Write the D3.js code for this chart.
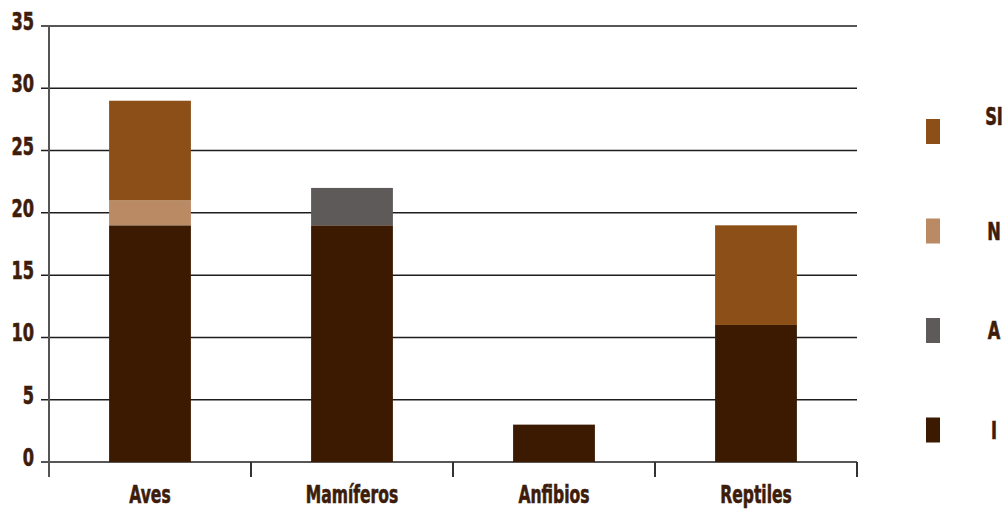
<!DOCTYPE html>
<html>
<head>
<meta charset="utf-8">
<title>Especies por grupo</title>
<script src="https://cdn.jsdelivr.net/npm/d3@7"></script>
<style>
  body { margin: 0; background: #fff; }
  text { font-family: "DejaVu Sans Condensed", "DejaVu Sans", sans-serif; font-weight: bold; fill: #3d1c0a; stroke: #3d1c0a; stroke-width: 0.6px; }
</style>
</head>
<body>
<div id="chart"></div>
<script>
  // data
  var categories = ['Aves', 'Mamíferos', 'Anfibios', 'Reptiles'];
  var seriesNames = ['I', 'A', 'N', 'SI'];
  var seriesColors = ['#3c1a02', '#5f5a5a', '#ba8a65', '#8b4f17'];
  var valI  = [19, 19, 3, 11];
  var valA  = [0, 3, 0, 0];
  var valN  = [2, 0, 0, 0];
  var valSI = [8, 0, 0, 8];
  var yTicks = [0, 5, 10, 15, 20, 25, 30, 35];

  var width = 1005, height = 509;
  var margin = { left: 49, right: 148, top: 26, bottom: 47 };
  var squeeze = 0.72; // the original font is a narrow one

  var svg = d3.select('#chart')
    .append('svg')
    .attr('width', width)
    .attr('height', height);

  var rows = categories.map(function(c, i) {
    return { cat: c, I: valI[i], A: valA[i], N: valN[i], SI: valSI[i] };
  });
  var stacked = d3.stack().keys(seriesNames)(rows);

  var x = d3.scaleBand()
    .domain(categories)
    .range([margin.left, width - margin.right])
    .paddingInner(0.595)
    .paddingOuter(0.2975);

  var xOuter = d3.scaleBand()
    .domain(categories)
    .range([margin.left, width - margin.right]);

  var y = d3.scaleLinear()
    .domain([0, 35])
    .range([height - margin.bottom, margin.top]);

  var color = d3.scaleOrdinal().domain(seriesNames).range(seriesColors);

  function place(px, py) {
    return 'translate(' + px + ',' + py + ') scale(' + squeeze + ',1)';
  }

  // gridlines
  svg.append('g')
    .selectAll('line')
    .data(yTicks)
    .enter()
    .append('line')
    .attr('x1', margin.left - 8)
    .attr('x2', width - margin.right)
    .attr('y1', function(d) { return y(d); })
    .attr('y2', function(d) { return y(d); })
    .attr('stroke', '#1e1e1e')
    .attr('stroke-width', 1.5);

  // y labels
  svg.append('g')
    .selectAll('text')
    .data(yTicks)
    .enter()
    .append('text')
    .attr('transform', function(d) { return place(34, y(d) + 4); })
    .attr('text-anchor', 'end')
    .style('font-size', '25px')
    .text(function(d) { return d; });

  // bars
  svg.append('g')
    .selectAll('g')
    .data(stacked)
    .enter()
    .append('g')
    .attr('fill', function(d) { return color(d.key); })
    .selectAll('rect')
    .data(function(d) { return d; })
    .enter()
    .append('rect')
    .attr('x', function(d) { return x(d.data.cat); })
    .attr('width', x.bandwidth())
    .attr('y', function(d) { return y(d[1]); })
    .attr('height', function(d) { return y(d[0]) - y(d[1]); });

  // axes lines
  svg.append('line')
    .attr('x1', margin.left).attr('x2', margin.left)
    .attr('y1', margin.top).attr('y2', y(0) + 15)
    .attr('stroke', '#555').attr('stroke-width', 2);

  var bounds = categories.map(function(c) { return xOuter(c); }).concat([width - margin.right]);
  svg.append('g')
    .selectAll('line')
    .data(bounds.slice(1))
    .enter()
    .append('line')
    .attr('x1', function(d) { return d; })
    .attr('x2', function(d) { return d; })
    .attr('y1', y(0))
    .attr('y2', y(0) + 15)
    .attr('stroke', '#333')
    .attr('stroke-width', 2);

  // category labels
  svg.append('g')
    .selectAll('text')
    .data(categories)
    .enter()
    .append('text')
    .attr('transform', function(d) { return place(xOuter(d) + xOuter.bandwidth() / 2, 503); })
    .attr('text-anchor', 'middle')
    .style('font-size', '24px')
    .text(function(d) { return d; });

  // legend, top to bottom: SI, N, A, I
  var legendKeys = seriesNames.slice().reverse();
  var legend = svg.append('g')
    .selectAll('g')
    .data(legendKeys)
    .enter()
    .append('g')
    .attr('transform', function(d, i) { return 'translate(926,' + (119 + i * 99.5) + ')'; });

  legend.append('rect')
    .attr('width', 14)
    .attr('height', 25)
    .attr('fill', function(d) { return color(d); });

  legend.append('text')
    .attr('transform', function(d, i) { return place(68, i === 0 ? 6 : 21); })
    .attr('text-anchor', 'middle')
    .style('font-size', '25px')
    .text(function(d) { return d; });
</script>
</body>
</html>
